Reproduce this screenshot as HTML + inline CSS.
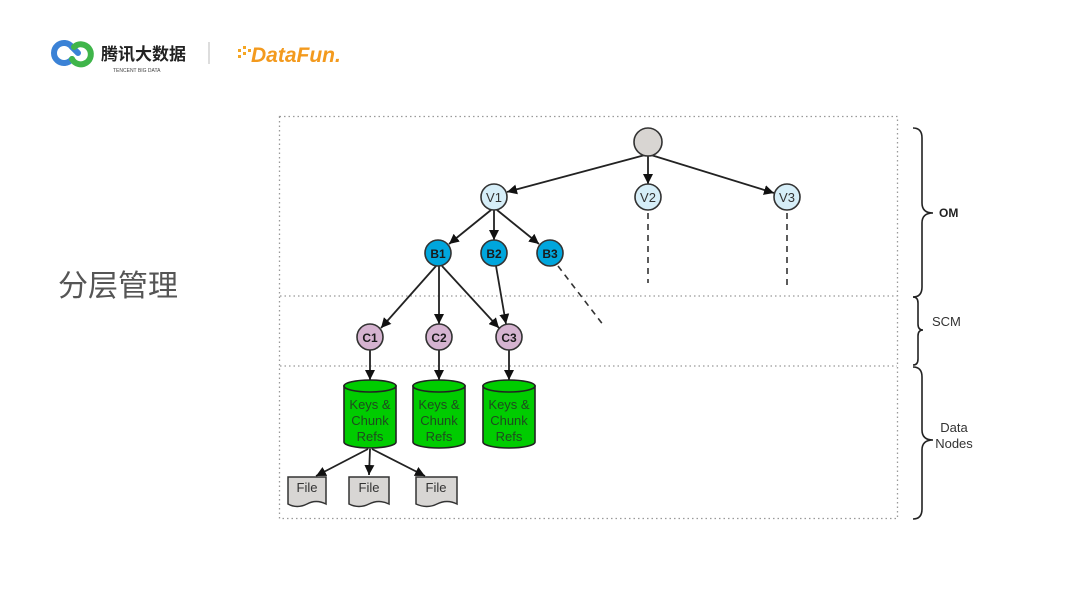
<!DOCTYPE html>
<html><head><meta charset="utf-8"><style>
html,body{margin:0;padding:0;background:#fff;}
svg{display:block;}
text{font-family:"Liberation Sans","Noto Sans CJK SC",sans-serif;}
</style></head><body>
<svg width="1080" height="608" viewBox="0 0 1080 608" xmlns="http://www.w3.org/2000/svg">
<defs>
<marker id="ar" viewBox="0 0 10 10" refX="10" refY="5" markerWidth="10" markerHeight="10" orient="auto" markerUnits="userSpaceOnUse">
<path d="M0,0 L10,5 L0,10 z" fill="#111"/></marker>
</defs>
<!-- logos -->
<g fill="none" stroke-width="6" stroke-linecap="round">
<path d="M72,47 A10,10 0 1 0 72,59" stroke="#3b82d6"/>
<path d="M72,47 L78,53" stroke="#3b82d6"/>
<path d="M72,59 A10,10 0 1 0 74,47" stroke="#3fb54a"/>
</g>
<text x="101" y="60" font-size="17" font-weight="bold" fill="#222">腾讯大数据</text>
<text x="113" y="72" font-size="5" fill="#444">TENCENT BIG DATA</text>
<line x1="209" y1="42" x2="209" y2="64" stroke="#bbb" stroke-width="1"/>
<g fill="#f5a623">
<rect x="238" y="49" width="3" height="3"/><rect x="243" y="46" width="3" height="3"/><rect x="243" y="52" width="3" height="3"/><rect x="248" y="49" width="3" height="3"/><rect x="238" y="55" width="3" height="3"/>
</g>
<text x="251" y="62" font-size="21" font-weight="bold" font-style="italic" fill="#f39a1e">DataFun.</text>
<text x="58" y="296" font-size="30" fill="#555">分层管理</text>
<!-- dotted box -->
<g stroke="#999" stroke-width="1.3" stroke-dasharray="1.5 3" fill="none">
<rect x="279.5" y="116.5" width="618" height="402"/>
<line x1="280" y1="296" x2="897" y2="296"/>
<line x1="280" y1="366" x2="897" y2="366"/>
</g>
<!-- edges -->
<g stroke="#222" stroke-width="1.8" fill="none" marker-end="url(#ar)">
<line x1="645" y1="155" x2="507" y2="192"/>
<line x1="648" y1="156" x2="648" y2="184"/>
<line x1="651" y1="155" x2="774" y2="193"/>
<line x1="491" y1="210" x2="449" y2="244"/>
<line x1="494" y1="210" x2="494" y2="240"/>
<line x1="497" y1="210" x2="539" y2="244"/>
<line x1="436" y1="266" x2="381" y2="328"/>
<line x1="439" y1="266" x2="439" y2="324"/>
<line x1="442" y1="266" x2="499" y2="328"/>
<line x1="496" y1="266" x2="506" y2="324"/>
<line x1="370" y1="350" x2="370" y2="380"/>
<line x1="439" y1="350" x2="439" y2="380"/>
<line x1="509" y1="350" x2="509" y2="380"/>
<line x1="368" y1="449" x2="316" y2="476"/>
<line x1="370" y1="449" x2="369" y2="475"/>
<line x1="372" y1="449" x2="425" y2="476"/>
</g>
<g stroke="#333" stroke-width="1.6" stroke-dasharray="6 5" fill="none">
<line x1="648" y1="213" x2="648" y2="283"/>
<line x1="787" y1="213" x2="787" y2="290"/>
<line x1="558" y1="266" x2="604" y2="326"/>
</g>
<!-- nodes -->
<g stroke="#333" stroke-width="1.6">
<circle cx="648" cy="142" r="14" fill="#d8d5d2"/>
<circle cx="494" cy="197" r="13" fill="#d6eef8"/>
<circle cx="648" cy="197" r="13" fill="#d6eef8"/>
<circle cx="787" cy="197" r="13" fill="#d6eef8"/>
<circle cx="438" cy="253" r="13" fill="#00a6dd"/>
<circle cx="494" cy="253" r="13" fill="#00a6dd"/>
<circle cx="550" cy="253" r="13" fill="#00a6dd"/>
<circle cx="370" cy="337" r="13" fill="#d5b3d0"/>
<circle cx="439" cy="337" r="13" fill="#d5b3d0"/>
<circle cx="509" cy="337" r="13" fill="#d5b3d0"/>
</g>
<g font-size="13" text-anchor="middle" fill="#333">
<text x="494" y="202">V1</text><text x="648" y="202">V2</text><text x="787" y="202">V3</text>
</g>
<g font-size="12" font-weight="bold" text-anchor="middle" fill="#1a1a1a">
<text x="438" y="258">B1</text><text x="494" y="258">B2</text><text x="550" y="258">B3</text>
<text x="370" y="342">C1</text><text x="439" y="342">C2</text><text x="509" y="342">C3</text>
</g>
<!-- cylinders -->
<g stroke="#222" stroke-width="1.6" fill="#0c0">
<path d="M344,386 L344,442 A26,6 0 0 0 396,442 L396,386 Z"/><ellipse cx="370" cy="386" rx="26" ry="6"/>
<path d="M413,386 L413,442 A26,6 0 0 0 465,442 L465,386 Z"/><ellipse cx="439" cy="386" rx="26" ry="6"/>
<path d="M483,386 L483,442 A26,6 0 0 0 535,442 L535,386 Z"/><ellipse cx="509" cy="386" rx="26" ry="6"/>
</g>
<g font-size="13" text-anchor="middle" fill="#1f4a1f">
<text x="370" y="409">Keys &amp;</text><text x="370" y="425">Chunk</text><text x="370" y="441">Refs</text>
<text x="439" y="409">Keys &amp;</text><text x="439" y="425">Chunk</text><text x="439" y="441">Refs</text>
<text x="509" y="409">Keys &amp;</text><text x="509" y="425">Chunk</text><text x="509" y="441">Refs</text>
</g>
<!-- files -->
<g stroke="#333" stroke-width="1.5" fill="#d8d6d4">
<path d="M288,477 h38 v27 q-10,-5 -19,0 q-10,5 -19,0 z"/>
<path d="M349,477 h40 v27 q-10,-5 -20,0 q-10,5 -20,0 z"/>
<path d="M416,477 h41 v27 q-10,-5 -20,0 q-10,5 -21,0 z"/>
</g>
<g font-size="13" text-anchor="middle" fill="#333">
<text x="307" y="492">File</text><text x="369" y="492">File</text><text x="436" y="492">File</text>
</g>
<!-- braces -->
<g stroke="#222" stroke-width="1.6" fill="none">
<path d="M913,128 Q922,128 922,138 L922,203 Q922,213 933,213 Q922,213 922,223 L922,287 Q922,297 913,297"/>
<path d="M913,297 Q918,297 918,303 L918,324 Q918,330 923,330 Q918,330 918,336 L918,359 Q918,365 913,365"/>
<path d="M913,367 Q922,367 922,377 L922,430 Q922,440 933,440 Q922,440 922,450 L922,509 Q922,519 913,519"/>
</g>
<text x="939" y="217" font-size="12" font-weight="bold" fill="#222">OM</text>
<text x="932" y="326" font-size="13" fill="#333">SCM</text>
<text x="954" y="432" font-size="13" fill="#333" text-anchor="middle">Data</text>
<text x="954" y="448" font-size="13" fill="#333" text-anchor="middle">Nodes</text>
</svg>
</body></html>
